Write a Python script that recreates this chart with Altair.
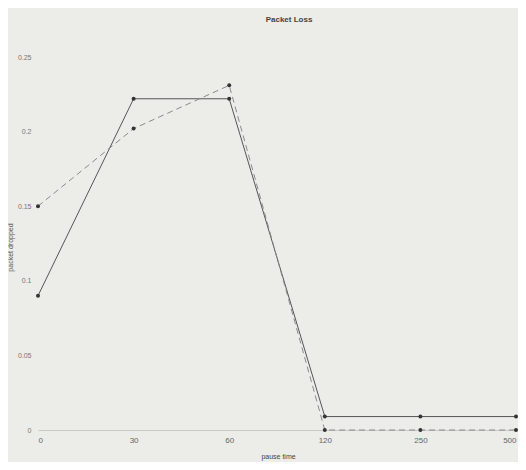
import altair as alt
import pandas as pd

pause_time = ["0", "30", "60", "120", "250", "500"]
series_solid = [0.09, 0.222, 0.222, 0.009, 0.009, 0.009]
series_dashed = [0.15, 0.202, 0.231, 0.0, 0.0, 0.0]
y_ticks = [0, 0.05, 0.1, 0.15, 0.2, 0.25]

rows = []
for i, p in enumerate(pause_time):
    rows.append({"pause": p, "dropped": series_solid[i], "series": "solid", "order": i})
    rows.append({"pause": p, "dropped": series_dashed[i], "series": "dashed", "order": i})
df = pd.DataFrame(rows)

FONT = "Liberation Sans"

x_enc = alt.X(
    "pause:O",
    sort=pause_time,
    scale=alt.Scale(type="point", padding=0),
    axis=alt.Axis(
        title="pause time",
        labelAngle=0,
        labelFontSize=8,
        labelColor="#666666",
        labelPadding=6,
        labelFlush=True,
        ticks=False,
        domainColor="#c9c9c7",
        titleFontSize=7,
        titleFontWeight="normal",
        titleColor="#444444",
        titleY=22,
        titleX=240,
    ),
)
y_enc = alt.Y(
    "dropped:Q",
    scale=alt.Scale(domain=[0, 0.25], nice=False, zero=True),
    axis=alt.Axis(
        title="packet dropped",
        values=y_ticks,
        format="~g",
        labelFontSize=7,
        labelColor="#777777",
        labelPadding=7,
        ticks=False,
        domain=False,
        grid=False,
        titleFontSize=7,
        titleFontWeight="normal",
        titleColor="#555555",
        titleX=-25,
        titleY=190,
    ),
)

solid = (
    alt.Chart(df)
    .transform_filter(alt.datum.series == "solid")
    .mark_line(color="#555555", strokeWidth=1, point=alt.OverlayMarkDef(color="#333333", size=16, filled=True))
    .encode(x=x_enc, y=y_enc, order="order:Q")
)
dashed = (
    alt.Chart(df)
    .transform_filter(alt.datum.series == "dashed")
    .mark_line(color="#8a8a8a", strokeWidth=1, strokeDash=[6, 4], point=alt.OverlayMarkDef(color="#333333", size=16, filled=True))
    .encode(x=x_enc, y=y_enc, order="order:Q")
)

chart = (
    alt.layer(solid, dashed)
    .properties(
        width=478,
        height=373,
        title=alt.TitleParams("Packet Loss", fontSize=8, fontWeight="bold", color="#444444", font=FONT, offset=29, dx=12),
        background="#ecece9",
        autosize=alt.AutoSizeParams(type="none"),
        padding={"left": 30, "top": 49, "right": 2, "bottom": 32},
    )
    .configure_view(stroke=None)
    .configure_axis(labelFont=FONT, titleFont=FONT)
)

chart.save("out.html", embed_options={"renderer": "svg", "actions": False})
